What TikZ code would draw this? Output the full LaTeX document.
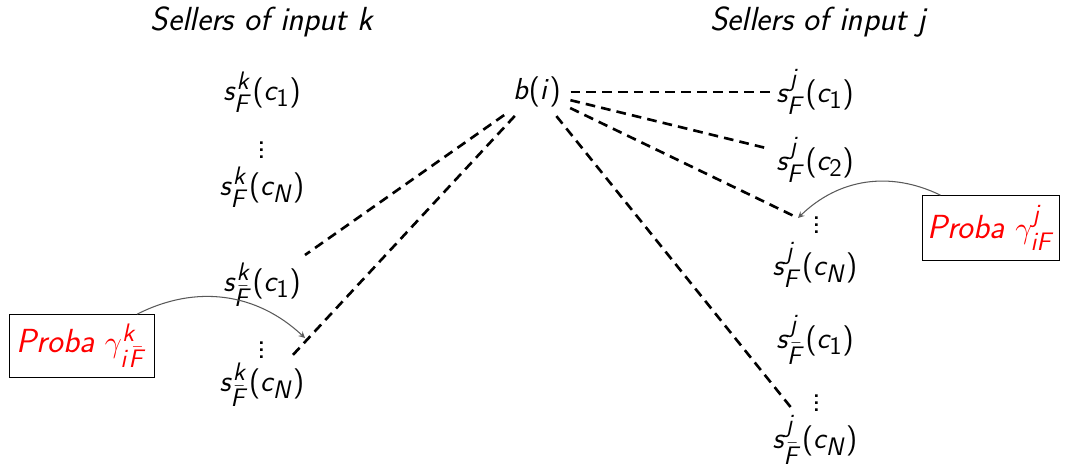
\documentclass[tikz,border=0pt]{standalone}
\usepackage{amsmath}
\usepackage{amssymb}
\usepackage{xcolor}

% sans serif letters and digits in math
\makeatletter
\DeclareSymbolFont{sfit}{OT1}{cmss}{m}{sl}
\DeclareSymbolFont{sfup}{OT1}{cmss}{m}{n}
\count@=`a
\loop
	\mathcode\count@=\numexpr"7000+\symsfit*"100+\count@\relax
	\ifnum\count@<`z \advance\count@\@ne\repeat
\count@=`A
\loop
	\mathcode\count@=\numexpr"7000+\symsfit*"100+\count@\relax
	\ifnum\count@<`Z \advance\count@\@ne\repeat
\count@=`0
\loop
	\mathcode\count@=\numexpr"7000+\symsfup*"100+\count@\relax
	\ifnum\count@<`9 \advance\count@\@ne\repeat
\mathcode`(=\numexpr"4000+\symsfup*"100+`(\relax
\mathcode`)=\numexpr"5000+\symsfup*"100+`)\relax
\makeatother

\tikzset{
	link/.style={black, line width=1.5pt, dash pattern=on 5.5pt off 3.5pt, shorten <=2pt},
	pick/.style={->, >=stealth, black!65, semithick},
	probabox/.style={draw=black, thin, text=red, minimum width=2.9cm, minimum height=1.26cm, inner sep=2pt}
}

\begin{document}
\begin{tikzpicture}[font=\sffamily\fontsize{19}{22}\selectfont]
			\useasboundingbox (0,0) rectangle (21.34,9.34);

			% sellers of input k
			\node (titleK) at (5.24,8.90) {\itshape Sellers of input k};
			\node (kF1) at (5.24,7.50) {$s^k_F(c_1)$};
			\node (kdots1) at (5.24,6.44) {$\vdots$};
			\node (kFN) at (5.24,5.60) {$s^k_F(c_N)$};
			\node (kB1) at (5.24,3.64) {$s^k_{\bar{F}}(c_1)$};
			\node (kdots2) at (5.24,2.44) {$\vdots$};
			\node (kBN) at (5.24,1.64) {$s^k_{\bar{F}}(c_N)$};

			% buyer
			\node (bi) at (10.74,7.50) {$b(i)$};

			% sellers of input j
			\node (titleJ) at (16.36,8.90) {\itshape Sellers of input j};
			\node (jF1) at (16.30,7.50) {$s^j_F(c_1)$};
			\node (jF2) at (16.30,6.14) {$s^j_F(c_2)$};
			\node (jdots1) at (16.34,4.94) {$\vdots$};
			\node (jFN) at (16.30,4.04) {$s^j_F(c_N)$};
			\node (jB1) at (16.30,2.54) {$s^j_{\bar{F}}(c_1)$};
			\node (jdots2) at (16.34,1.38) {$\vdots$};
			\node (jBN) at (16.30,0.54) {$s^j_{\bar{F}}(c_N)$};

			% probabilities
			\node[probabox] (probaK) at (1.64,2.42) {\itshape Proba $\gamma^k_{i\bar{F}}$};
			\node[probabox, minimum width=2.74cm, minimum height=1.3cm] (probaJ) at (19.82,4.78) {\itshape Proba $\gamma^j_{iF}$};

			\coordinate (kEnd1) at (6.10,4.24);
			\coordinate (kEnd2) at (5.82,2.20);
			\coordinate (kHit) at (6.10,2.58);
			\coordinate (jEnd) at (15.96,4.98);
			\coordinate (jEnd2) at (15.86,1.14);

			\draw[link] (bi) -- (jF1);
			\draw[link] (bi) -- (jF2);
			\draw[link] (bi) -- (jEnd);
			\draw[link] (bi) -- (jEnd2);
			\draw[link] (bi) -- (kEnd1);
			\draw[link] (bi) -- (kEnd2);

			\draw[pick] (probaK.30) to[bend left=35] (kHit);
			\draw[pick] (probaJ.147) to[bend right=35] (jEnd);
		\end{tikzpicture}
\end{document}
